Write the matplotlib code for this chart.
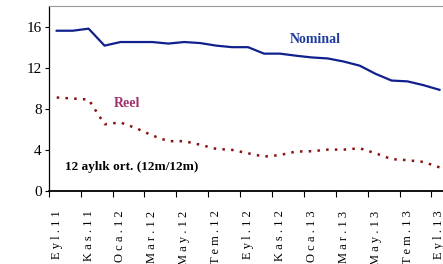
import matplotlib
matplotlib.use("Agg")
import matplotlib.pyplot as plt

months = ["Eyl.11", "Eki.11", "Kas.11", "Ara.11", "Oca.12", "Şub.12", "Mar.12",
          "Nis.12", "May.12", "Haz.12", "Tem.12", "Ağu.12", "Eyl.12", "Eki.12",
          "Kas.12", "Ara.12", "Oca.13", "Şub.13", "Mar.13", "Nis.13", "May.13",
          "Haz.13", "Tem.13", "Ağu.13", "Eyl.13"]

nominal = [15.6, 15.6, 15.8, 14.15, 14.5, 14.5, 14.5, 14.35, 14.5, 14.4, 14.15,
           14.0, 14.0, 13.37, 13.37, 13.17, 13.0, 12.9, 12.6, 12.2, 11.4, 10.75,
           10.67, 10.3, 9.85]
reel = [9.1, 9.0, 8.9, 6.5, 6.67, 6.1, 5.4, 4.85, 4.85, 4.5, 4.1, 4.0, 3.67,
        3.35, 3.5, 3.84, 3.87, 4.03, 4.03, 4.16, 3.67, 3.1, 3.0, 2.83, 2.3]

plt.rcParams["font.family"] = ["Liberation Serif", "DejaVu Serif"]

fig = plt.figure(figsize=(4.43, 2.64), dpi=100)
ax = fig.add_axes([0.11, 0.2765, 0.9, 0.7005])

x = list(range(len(months)))
ax.plot(x, nominal, color="#10208c", linewidth=1.6)
ax.plot(x, reel, color="#8b1010", linewidth=1.8, linestyle=(0, (1, 2.5)))

ax.set_xlim(-0.5, len(months) - 0.5)
ax.set_ylim(0, 18)
ax.set_yticks([0, 4, 8, 12, 16])
ax.tick_params(axis="y", length=3, width=0.8, labelsize=11, pad=2)

# category boundaries as ticks, labels every second month
ax.set_xticks([i - 0.5 for i in range(0, len(months) + 1, 2)], minor=False)
ax.set_xticklabels([])
ax.set_xticks(x[::2], minor=True)
ax.set_xticklabels([" ".join(m) for m in months[::2]], minor=True,
                   rotation=90, fontsize=9, va="top", ha="center")
ax.tick_params(axis="x", which="major", length=4, width=0.8)
ax.tick_params(axis="x", which="minor", length=0, pad=14)

ax.spines["right"].set_visible(False)
ax.spines["top"].set_color("#999999")
ax.spines["left"].set_linewidth(0.9)
ax.spines["bottom"].set_linewidth(1.3)

ax.text(16.2, 14.7, "Nominal", color="#1e3c9c", fontsize=10, fontweight="bold",
        ha="center", va="center")
ax.text(4.4, 8.5, "Reel", color="#a0306a", fontsize=10, fontweight="bold",
        ha="center", va="center")
ax.text(0.5, 2.35, "12 aylık ort. (12m/12m)", color="black", fontsize=9.5,
        fontweight="bold", ha="left", va="center")

fig.savefig("out.png", dpi=100)
